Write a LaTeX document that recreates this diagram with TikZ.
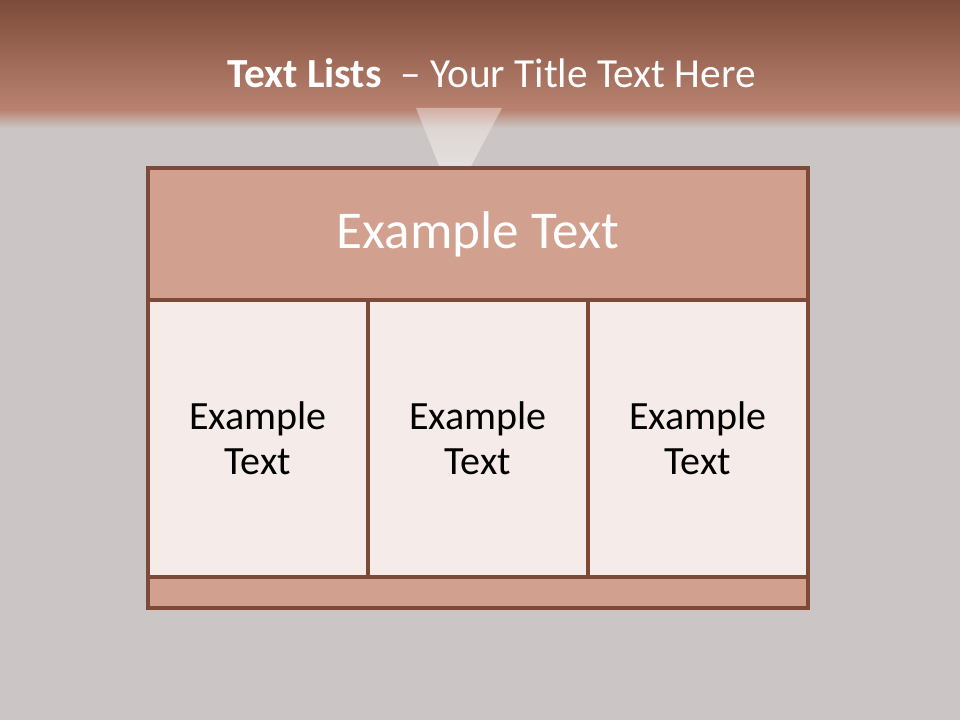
\documentclass[tikz,border=0pt]{standalone}
\usepackage{fontspec}
\setmainfont{Carlito}
\usetikzlibrary{positioning}

\definecolor{bgGray}{RGB}{203,198,197}
\definecolor{bandTop}{RGB}{125,75,57}
\definecolor{bandLow}{RGB}{186,131,113}
\definecolor{frameBrown}{RGB}{126,74,56}
\definecolor{headFill}{RGB}{209,160,142}
\definecolor{cellFill}{RGB}{245,236,233}

\begin{document}
\begin{tikzpicture}[
  head/.style = {
    rectangle, draw=frameBrown, line width=2.6pt, fill=headFill,
    minimum width=16.5cm, minimum height=3.3cm, outer sep=0pt,
    text=white, font=\fontsize{37.8}{42}\selectfont,
  },
  cell/.style = {
    rectangle, draw=frameBrown, line width=2.6pt, fill=cellFill,
    minimum width=5.5cm, minimum height=6.925cm, outer sep=0pt,
    align=center, text=black, font=\fontsize{28.5}{32}\selectfont,
  },
  foot/.style = {
    rectangle, draw=frameBrown, line width=2.6pt, fill=headFill,
    minimum width=16.5cm, minimum height=0.775cm, outer sep=0pt,
  },
  node distance=0pt,
]
  \useasboundingbox (0,0) rectangle (24,18);
  \fill[bgGray] (0,0) rectangle (24,18);
  % title band
  \shade[top color=bandTop, bottom color=bandLow] (0,18) rectangle (24,15.25);
  \shade[top color=bandLow, bottom color=bgGray] (0,15.25) rectangle (24,14.8);
  \node[anchor=base, text=white, font=\fontsize{29.4}{32}\selectfont] (title) at (12.29,15.8)
    {\textbf{Text Lists}\ \ – Your Title Text Here};
  % light beam
  \shade[top color=white!70!bandLow, bottom color=white!85!bgGray, opacity=0.55]
    (10.4,15.3) -- (12.55,15.3) -- (11.75,13.8) -- (11.0,13.8) -- cycle;

  \node[head, anchor=north west] (hd) at (3.7,13.8) {Example Text};
  \node[cell, anchor=north west] (c1) at (hd.south west) {Example\\Text};
  \node[cell, right=of c1]       (c2) {Example\\Text};
  \node[cell, right=of c2]       (c3) {Example\\Text};
  \node[foot, anchor=north west] (ft) at (c1.south west) {};
\end{tikzpicture}
\end{document}
